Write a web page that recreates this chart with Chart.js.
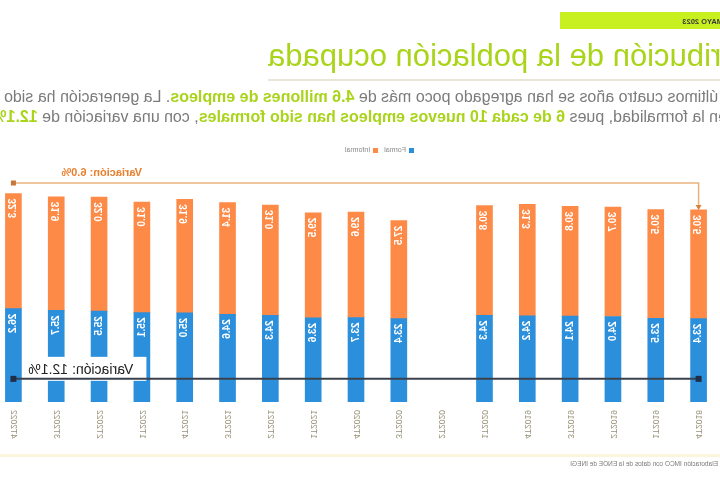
<!DOCTYPE html>
<html>
<head>
<meta charset="utf-8">
<script src="https://cdn.jsdelivr.net/npm/chart.js@4.4.0/dist/chart.umd.min.js"></script>
<style>
html,body{margin:0;padding:0;background:#fff;}
#page{position:relative;width:720px;height:480px;overflow:hidden;transform:scaleX(-1);transform-origin:360px 240px;font-family:"Liberation Sans",Arial,sans-serif;background:#fff;}
#tag{position:absolute;left:0;top:12px;width:160px;height:17px;background:#c8ef1f;}
#tag span{position:absolute;left:-3px;top:5px;font-size:7.5px;font-weight:bold;color:#3a3a3a;white-space:nowrap;}
#title{position:absolute;right:268px;top:38px;font-size:31px;color:#a9d41a;white-space:nowrap;}
#rule{position:absolute;left:0;top:79px;width:452px;height:2px;background:#e9e6d8;}
.sub{position:absolute;font-size:16px;color:#7b7b7b;white-space:nowrap;}
.sub b{color:#a9d41a;}
#l1{right:4px;top:88px;}
#l2{left:-7px;top:108px;}
#legend{position:absolute;left:300px;top:146px;font-size:7px;color:#888;white-space:nowrap;}
#legend i{display:inline-block;width:5px;height:5px;margin:0 3px 0 6px;vertical-align:middle;}
#chartbox{position:absolute;left:0;top:160px;width:728px;height:300px;}
#bottomrule{position:absolute;left:0;top:454px;width:720px;height:3px;background:#fbf6d9;}
#source{position:absolute;left:2px;top:460px;font-size:6.5px;color:#7a7a7a;white-space:nowrap;}
</style>
</head>
<body>
<div id="page">
  <div id="tag"><span>MAYO 2023</span></div>
  <div id="title">Distribución de la población ocupada</div>
  <div id="rule"></div>
  <div class="sub" id="l1">En los últimos cuatro años se han agregado poco más de <b>4.6 millones de empleos</b>. La generación ha sido</div>
  <div class="sub" id="l2">en la formalidad, pues <b>6 de cada 10 nuevos empleos han sido formales</b>, con una variación de <b>12.1%</b>.</div>
  <div id="legend"></div>
  <div id="chartbox"><canvas id="c" width="728" height="300"></canvas></div>
  <div id="bottomrule"></div>
  <div id="source">Elaboración IMCO con datos de la ENOE de INEGI</div>
</div>
<script>
// ---- data ----
const quarters = ["4T2018","1T2019","2T2019","3T2019","4T2019","1T2020","2T2020","3T2020","4T2020","1T2021","2T2021","3T2021","4T2021","1T2022","2T2022","3T2022","4T2022"];
const formal   = [23.4, 23.5, 24.0, 24.1, 24.2, 24.3, null, 23.4, 23.7, 23.6, 24.3, 24.6, 25.0, 25.1, 25.5, 25.7, 26.2];
const informal = [30.5, 30.5, 30.7, 30.8, 31.3, 30.8, null, 27.5, 29.6, 29.5, 31.0, 31.4, 31.9, 31.0, 32.0, 31.9, 32.3];
const seriesNames = ["Formal", "Informal"];
const formalVariation = "Variación: 12.1%";
const informalVariation = "Variación: 6.0%";

const BLUE = '#2b8fdc', ORANGE = '#fd8a47';

// legend
const lg = document.getElementById('legend');
lg.innerHTML = seriesNames.map((n,i)=>'<i style="background:'+[BLUE,ORANGE][i]+'"></i>'+n).join('');

const valueLabels = {
  id:'valueLabels',
  afterDatasetsDraw(chart){
    const ctx = chart.ctx;
    chart.data.datasets.forEach((ds,di)=>{
      const meta = chart.getDatasetMeta(di);
      meta.data.forEach((bar,i)=>{
        const v = ds.data[i];
        if (v == null) return;
        ctx.save();
        ctx.translate(bar.x, bar.y + 5);
        ctx.rotate(Math.PI/2);
        ctx.font = 'bold 10px "Liberation Sans", Arial, sans-serif';
        ctx.fillStyle = '#ffffff';
        ctx.textAlign = 'left';
        ctx.textBaseline = 'middle';
        ctx.fillText(v.toFixed(1), 0, 0);
        ctx.restore();
      });
    });
  }
};

const variations = {
  id:'variations',
  afterDraw(chart, args, opts){
    const ctx = chart.ctx;
    const mF = chart.getDatasetMeta(0).data;
    const mI = chart.getDatasetMeta(1).data;
    const x0 = mF[0].x, x1 = mF[mF.length-1].x;
    // formal line
    const yF = chart.scales.y.getPixelForValue(opts.formalLevel);
    ctx.save();
    ctx.fillStyle = '#ffffff';
    ctx.fillRect(x1 - 133, yF - 22, 119, 24);
    ctx.strokeStyle = '#3a414c';
    ctx.lineWidth = 2;
    ctx.beginPath(); ctx.moveTo(x0, yF); ctx.lineTo(x1, yF); ctx.stroke();
    ctx.fillStyle = '#1f2f4a';
    ctx.fillRect(x0-3, yF-3, 6, 6);
    ctx.fillRect(x1-3, yF-3, 6, 6);
    ctx.font = '14px "Liberation Sans", Arial, sans-serif';
    ctx.fillStyle = '#222';
    ctx.textAlign = 'right';
    ctx.textBaseline = 'alphabetic';
    ctx.fillText(formalVariation, x1 - 15, yF - 5);
    // informal line
    const yI = chart.chartArea.top - 7;
    const topFirst = mI[0].y;
    ctx.strokeStyle = '#e9b27c';
    ctx.lineWidth = 1.5;
    ctx.beginPath(); ctx.moveTo(x1, yI); ctx.lineTo(x0, yI); ctx.lineTo(x0, topFirst - 4); ctx.stroke();
    ctx.fillStyle = '#d9823a';
    ctx.beginPath(); ctx.moveTo(x0-3, topFirst-5); ctx.lineTo(x0+3, topFirst-5); ctx.lineTo(x0, topFirst); ctx.closePath(); ctx.fill();
    ctx.fillStyle = '#c8763a';
    ctx.fillRect(x1-2.5, yI-2.5, 5, 5);
    ctx.font = 'bold 11px "Liberation Sans", Arial, sans-serif';
    ctx.fillStyle = '#e8802e';
    ctx.textAlign = 'right';
    ctx.fillText(informalVariation, x1 - 48, yI - 7);
    ctx.restore();
  }
};

new Chart(document.getElementById('c'), {
  type:'bar',
  data:{
    labels: quarters,
    datasets:[
      {label: seriesNames[0], data: formal, backgroundColor: BLUE, barThickness:16},
      {label: seriesNames[1], data: informal, backgroundColor: ORANGE, barThickness:16}
    ]
  },
  options:{
    responsive:false,
    animation:false,
    layout:{padding:{top:30,left:0,right:0,bottom:0}},
    plugins:{legend:{display:false}, tooltip:{enabled:false}, variations:{formalLevel:6.5}},
    scales:{
      x:{stacked:true, offset:true,
         grid:{display:false, drawTicks:false}, border:{display:false},
         ticks:{minRotation:90, maxRotation:90, padding:8, color:'#9a927a',
                font:{size:8.5, family:'"Liberation Sans", Arial, sans-serif'}},
         afterFit(s){ s.height = 58; }
      },
      y:{stacked:true, display:false, min:0, max:59.5}
    }
  },
  plugins:[valueLabels, variations]
});
</script>
</body>
</html>
